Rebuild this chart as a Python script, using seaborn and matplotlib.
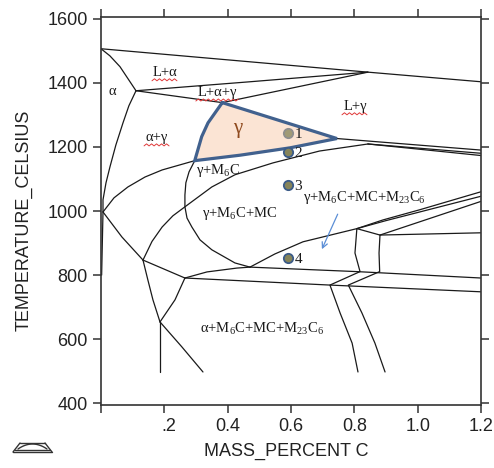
import numpy as np
import pandas as pd
import matplotlib
matplotlib.use('Agg')
import matplotlib.pyplot as plt
import matplotlib.transforms as mtransforms
from matplotlib.lines import Line2D
import seaborn as sns

sns.set_style('ticks')
plt.rcParams['font.family'] = ['Liberation Sans', 'DejaVu Sans']
plt.rcParams['mathtext.fontset'] = 'custom'
plt.rcParams['mathtext.rm'] = 'Liberation Serif'
plt.rcParams['mathtext.it'] = 'Liberation Serif:italic'

# ---- phase boundaries (mass % C, temperature C) ----
liquidus_c = [0.0, 0.843, 1.2]
liquidus_T = [1506, 1433, 1403]
alpha_c = [0.0, 0.028, 0.06, 0.1105]
alpha_T = [1506, 1484, 1450, 1375]
l_alpha_c = [0.1105, 0.47, 0.843]
l_alpha_T = [1375, 1403, 1433]
l_apex_c = [0.1105, 0.383]
l_apex_T = [1375, 1338]
apex_l_c = [0.383, 0.843]
apex_l_T = [1338, 1433]
alpha_gamma_c = [0.1105, 0.088, 0.0695, 0.047, 0.0284, 0.0158, 0.0063, 0.0063, 0.002]
alpha_gamma_T = [1375, 1328, 1275, 1206, 1138, 1088, 1035, 997, 800]
gm6c_top_c = [0.0063, 0.041, 0.085, 0.139, 0.193, 0.296]
gm6c_top_T = [997, 1041, 1075, 1106, 1128, 1157]
right1_c = [0.745, 1.2]
right1_T = [1226, 1190]
right2_c = [0.843, 1.2]
right2_T = [1209, 1180]
right3_c = [0.843, 1.2]
right3_T = [1209, 1173]
mc_top_c = [0.1326, 0.161, 0.193, 0.227, 0.265, 0.35, 0.423, 0.543, 0.69, 0.843]
mc_top_T = [847, 905, 950, 985, 1013, 1075, 1113, 1150, 1187, 1209]
mc_left_c = [0.296, 0.278, 0.268, 0.265, 0.265, 0.2716, 0.287, 0.3126, 0.35, 0.423, 0.4705]
mc_left_T = [1157, 1122, 1088, 1050, 1013, 978, 950, 910, 879, 838, 825]
j3_j5_c = [0.0063, 0.066, 0.1326]
j3_j5_T = [997, 919, 847]
j5_j7_c = [0.1326, 0.265]
j5_j7_T = [847, 791]
j5_j8_c = [0.1326, 0.148, 0.164, 0.1863]
j5_j8_T = [847, 785, 723, 654]
j7_j8_c = [0.265, 0.2337, 0.1863]
j7_j8_T = [791, 723, 654]
j8_down_c = [0.1863, 0.1863]
j8_down_T = [654, 498]
j8_right_c = [0.1863, 0.2547, 0.322]
j8_right_T = [654, 577, 498]
j7_j6_c = [0.265, 0.3347, 0.429, 0.4705]
j7_j6_T = [791, 810, 822, 825]
j6_right_c = [0.4705, 0.808, 1.2]
j6_right_T = [825, 811, 791]
lower_c = [0.265, 0.723, 1.2]
lower_T = [791, 769, 748]
m23_top_c = [0.4705, 0.549, 0.638, 0.808, 0.89, 1.007, 1.2]
m23_top_T = [825, 866, 904, 945, 972, 1004, 1060]
m23_mid_c = [0.808, 0.881, 1.2]
m23_mid_T = [945, 925, 932]
bundle1_c = [0.808, 0.90, 1.2]
bundle1_T = [945, 970, 1046]
bundle2_c = [0.881, 1.2]
bundle2_T = [925, 1030]
arc_a_c = [0.808, 0.802, 0.818, 0.723, 0.755, 0.793, 0.8115]
arc_a_T = [945, 869, 811, 769, 682, 588, 498]
arc_b_c = [0.881, 0.878, 0.88, 0.781, 0.824, 0.865, 0.897]
arc_b_T = [925, 869, 811, 769, 682, 588, 498]

# single-phase gamma region (apex -> right vertex -> bottom -> left vertex -> apex)
gamma_c = [0.383, 0.745, 0.597, 0.439, 0.296, 0.318, 0.338, 0.383]
gamma_T = [1338, 1226, 1197, 1174, 1157, 1232, 1275, 1338]

# marked alloys
point_ids = ['1', '2', '3', '4']
point_c = [0.589, 0.589, 0.589, 0.589]
point_T = [1243, 1185, 1081, 853]

curves = {
    'liquidus': (liquidus_c, liquidus_T), 'alpha': (alpha_c, alpha_T),
    'l_alpha': (l_alpha_c, l_alpha_T), 'l_apex': (l_apex_c, l_apex_T),
    'apex_l': (apex_l_c, apex_l_T), 'alpha_gamma': (alpha_gamma_c, alpha_gamma_T),
    'gm6c_top': (gm6c_top_c, gm6c_top_T), 'right1': (right1_c, right1_T),
    'right2': (right2_c, right2_T), 'right3': (right3_c, right3_T),
    'mc_top': (mc_top_c, mc_top_T), 'mc_left': (mc_left_c, mc_left_T),
    'j3_j5': (j3_j5_c, j3_j5_T), 'j5_j7': (j5_j7_c, j5_j7_T),
    'j5_j8': (j5_j8_c, j5_j8_T), 'j7_j8': (j7_j8_c, j7_j8_T),
    'j8_down': (j8_down_c, j8_down_T), 'j8_right': (j8_right_c, j8_right_T),
    'j7_j6': (j7_j6_c, j7_j6_T), 'j6_right': (j6_right_c, j6_right_T),
    'lower': (lower_c, lower_T), 'm23_top': (m23_top_c, m23_top_T),
    'm23_mid': (m23_mid_c, m23_mid_T), 'bundle1': (bundle1_c, bundle1_T),
    'bundle2': (bundle2_c, bundle2_T), 'arc_a': (arc_a_c, arc_a_T),
    'arc_b': (arc_b_c, arc_b_T),
}
rows = []
for name, (cs, ts) in curves.items():
    for c, t in zip(cs, ts):
        rows.append({'curve': name, 'C': c, 'T': t})
df = pd.DataFrame(rows)
pts = pd.DataFrame({'id': point_ids, 'C': point_c, 'T': point_T})

fig = plt.figure(figsize=(4.94, 4.68), dpi=100)
ax = fig.add_axes([101 / 494, 1 - 405 / 468, 380 / 494, 388 / 468])

ax.fill(gamma_c, gamma_T, color='#fbe4d4', zorder=1, lw=0)
sns.lineplot(data=df, x='C', y='T', units='curve', estimator=None, sort=False,
             color='#1a1a1a', lw=0.9, ax=ax, legend=False, zorder=2)
ax.plot(gamma_c, gamma_T, color='#41618e', lw=2.3, zorder=3, solid_joinstyle='miter')

sns.scatterplot(data=pts.iloc[:1], x='C', y='T', s=45, color='#a09a76',
                edgecolor='#8e8e8e', linewidth=1.3, ax=ax, zorder=4)
sns.scatterplot(data=pts.iloc[1:], x='C', y='T', s=45, color='#86845a',
                edgecolor='#3b5b88', linewidth=1.3, ax=ax, zorder=4)
for _, r in pts.iterrows():
    ax.text(r['C'] + 0.022, r['T'] - 5, r['id'], family='Liberation Serif',
            fontsize=11, ha='left', va='center', color='#1a1a1a')

serif = dict(family='Liberation Serif', fontsize=10.5, ha='center', va='center', color='#1a1a1a')
ax.text(0.202, 1431, 'L+α', **serif)
ax.text(0.035, 1372, 'α', **serif)
ax.text(0.369, 1368, 'L+α+γ', **serif)
ax.text(0.802, 1325, 'L+γ', **serif)
ax.text(0.177, 1228, 'α+γ', **serif)
ax.text(0.433, 1256, 'γ', family='Liberation Serif', fontsize=15,
        ha='center', va='center', color='#8f4a1e')
ax.text(0.369, 1125, 'γ+M$_6$C', **serif)
ax.text(0.439, 991, 'γ+M$_6$C+MC', **serif)
ax.text(0.833, 1041, 'γ+M$_6$C+MC+M$_{23}$C$_6$', **serif)
ax.text(0.508, 632, 'α+M$_6$C+MC+M$_{23}$C$_6$', **serif)

ax.annotate('', xy=(0.694, 873), xytext=(0.751, 998),
            arrowprops=dict(arrowstyle='->', color='#5b8ed6', lw=0.9))


def squiggle(cx, cy, w_px, dy_px):
    trans = fig.dpi_scale_trans + mtransforms.ScaledTranslation(cx, cy, ax.transData)
    n = int(w_px / 2.5)
    xs = (np.arange(n + 1) * 2.5 - w_px / 2) / 100
    ys = (-dy_px + np.where(np.arange(n + 1) % 2, 1.0, -1.0)) / 100
    ax.add_line(Line2D(xs, ys, transform=trans, color='#e03a3a', lw=0.7))


squiggle(0.202, 1431, 26, 7)
squiggle(0.369, 1368, 44, 7)
squiggle(0.802, 1325, 26, 7)
squiggle(0.177, 1228, 26, 7)

ax.set_xlim(0, 1.2)
ax.set_ylim(395, 1605)
ax.set_xticks([0, 0.2, 0.4, 0.6, 0.8, 1.0, 1.2])
ax.set_xticklabels(['', '.2', '0.4', '0.6', '0.8', '1.0', '1.2'])
ax.set_yticks([400, 600, 800, 1000, 1200, 1400, 1600])
ax.tick_params(direction='out', length=6, width=1.1, labelsize=13, pad=3.5,
               top=True, right=True, colors='#333333', labelcolor='#222222')
lbl = ax.get_xticklabels()[1]
lbl.set_ha('left')
lbl.set_transform(lbl.get_transform() + mtransforms.ScaledTranslation(-0.03, 0, fig.dpi_scale_trans))
for s in ax.spines.values():
    s.set_linewidth(1.2)
    s.set_color('#333333')

ax.set_xlabel('MASS_PERCENT C', fontsize=13, color='#222222')
ax.set_ylabel('TEMPERATURE_CELSIUS', fontsize=13, color='#222222')
ax.xaxis.set_label_coords(0.487, -0.098)
ax.yaxis.set_label_coords(-0.18, 0.477)

# small toolbar icon in the lower-left corner
def fpx(x, y):
    return x / 494, 1 - y / 468


icon = [((13, 452), (52, 452)), ((15, 449.5), (50, 449.5)), ((13, 452), (20, 443)),
        ((52, 452), (45, 443)), ((20, 443), (45, 443))]
for (x0, y0), (x1, y1) in icon:
    a, b = fpx(x0, y0), fpx(x1, y1)
    fig.add_artist(Line2D([a[0], b[0]], [a[1], b[1]], transform=fig.transFigure,
                          color='#333333', lw=1.0))
arc_x = np.linspace(18, 47, 20)
arc_y = 449 - 5 * (1 - ((arc_x - 32.5) / 14.5) ** 2)
fig.add_artist(Line2D(arc_x / 494, 1 - arc_y / 468, transform=fig.transFigure,
                      color='#333333', lw=1.0))

fig.savefig('out.png', dpi=100)
